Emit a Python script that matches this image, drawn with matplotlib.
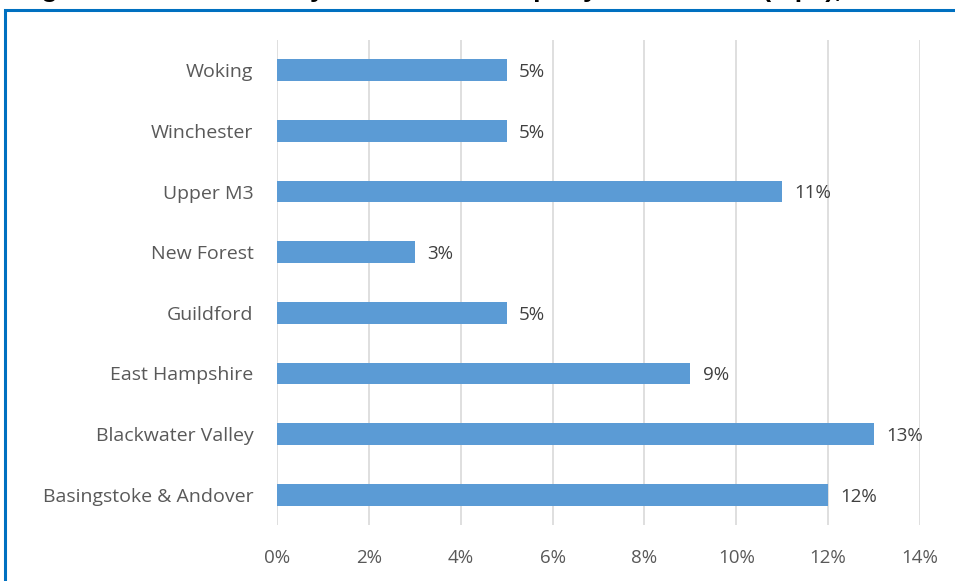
import matplotlib
matplotlib.use("Agg")
import matplotlib.pyplot as plt
from matplotlib.patches import Rectangle
import numpy as np

areas = ["Basingstoke & Andover", "Blackwater Valley", "East Hampshire", "Guildford",
         "New Forest", "Upper M3", "Winchester", "Woking"]
vacancy = [12, 13, 9, 5, 3, 11, 5, 5]
ticks = [0, 2, 4, 6, 8, 10, 12, 14]
title = "Figure 6: Office Vacancy Rates in the Property Market Area (sqm), 2019"

plt.rcParams['font.family'] = ['Open Sans', 'DejaVu Sans']

fig = plt.figure(figsize=(9.55, 5.81), dpi=100)
ax = fig.add_axes([277/955, 1 - 525/581, (920 - 277)/955, (525 - 40)/581])

y = np.arange(len(areas))
ax.barh(y, vacancy, height=0.36, color='#5B9BD5', zorder=3)
for yi, v in zip(y, vacancy):
    ax.annotate(f"{v}%", (v, yi - 0.03), xytext=(9, 0), textcoords='offset points',
                va='center', ha='left', fontsize=13.5, color='#404040')

ax.set_xlim(0, 14)
ax.set_ylim(-0.5, len(areas) - 0.5)
ax.set_xticks(ticks)
ax.set_xticklabels([f"{t}%" for t in ticks], fontsize=13.5)
ax.set_yticks(y)
ax.set_yticklabels(areas, fontsize=14)
ax.tick_params(axis='both', length=0, labelcolor='#595959')
ax.tick_params(axis='x', pad=17)
ax.tick_params(axis='y', pad=17)
ax.grid(axis='x', color='#D9D9D9', linewidth=1.2, zorder=0)
for s in ax.spines.values():
    s.set_visible(False)

# outer frame of the figure box (partly cropped in the source)
fig.patches.append(Rectangle((5/955, -0.2), 1.5, 1 - 10/581 + 0.2, transform=fig.transFigure,
                             fill=False, edgecolor='#0070C0', linewidth=2.2, clip_on=False))
# cropped title, only its lower edge shows
fig.text(18/955, 1 + 3/581, title, fontsize=19, fontweight='bold', family='Liberation Sans',
         va='baseline', ha='left', color='black')

fig.savefig("out.png", dpi=100)
